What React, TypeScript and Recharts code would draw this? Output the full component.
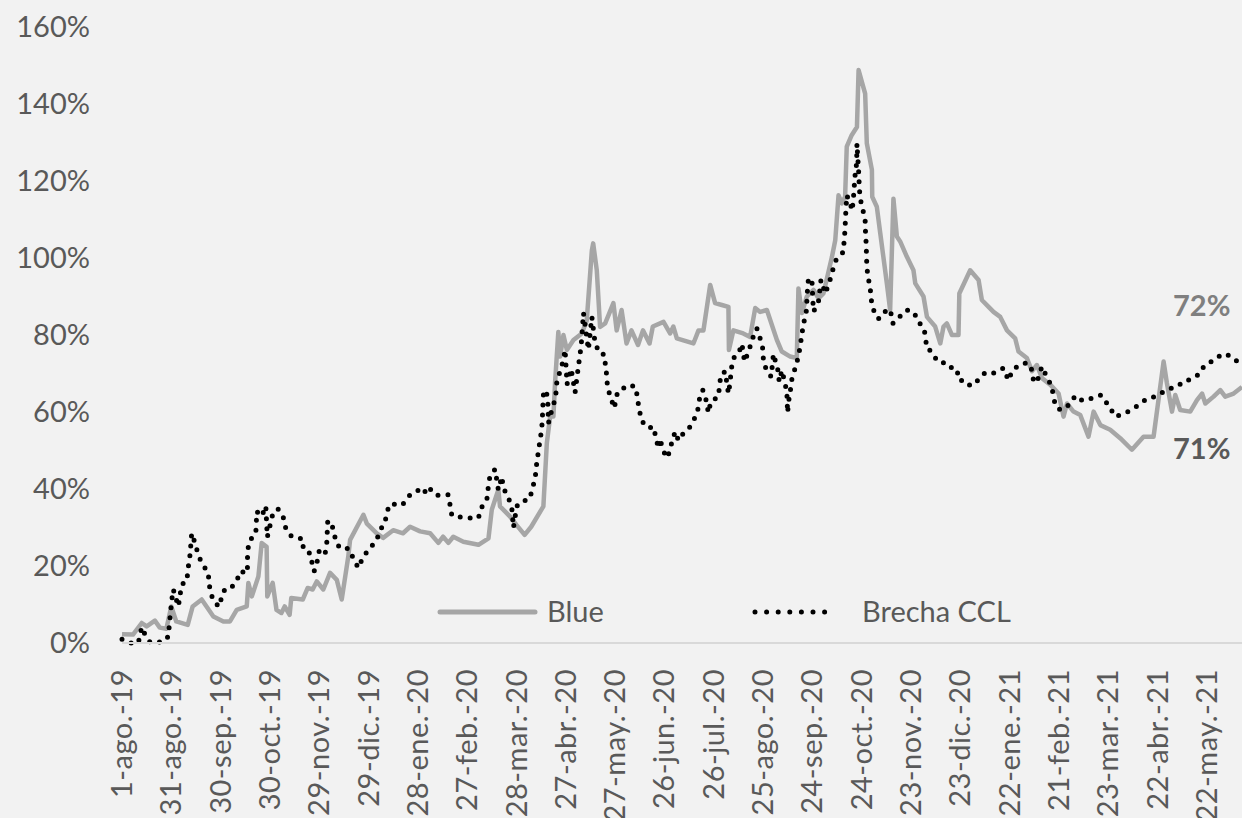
import { LineChart, Line, XAxis, YAxis, ReferenceDot } from 'recharts';

// days counted from 1-ago-2019
const tickDays = [0, 30, 60, 90, 120, 150, 180, 210, 240, 270, 300, 330, 360, 390, 420, 450, 480, 510, 540, 570, 600, 630, 660];
const tickLabels = [
  '1-ago.-19', '31-ago.-19', '30-sep.-19', '30-oct.-19', '29-nov.-19', '29-dic.-19',
  '28-ene.-20', '27-feb.-20', '28-mar.-20', '27-abr.-20', '27-may.-20', '26-jun.-20',
  '26-jul.-20', '25-ago.-20', '24-sep.-20', '24-oct.-20', '23-nov.-20', '23-dic.-20',
  '22-ene.-21', '21-feb.-21', '23-mar.-21', '22-abr.-21', '22-may.-21',
];
const yTicks = [0, 20, 40, 60, 80, 100, 120, 140, 160];

const blueDays = [
  0, 6.7, 12, 15, 20, 23, 27, 30, 33, 40, 43, 48.5, 55.6, 61.7, 65.7, 69.8, 75.9, 76.9, 79, 83,
  85, 88, 88.4, 91.7, 94, 97, 99, 102, 103, 110, 113, 116, 118.5, 122.5, 126.6, 130.7, 133.7, 137.7, 138.8, 146.9,
  149, 155, 158.9, 165, 171, 175.3, 181.4, 187.5, 192.5, 195.4, 198.6, 201.6, 207.7, 216.9, 223, 225, 229, 230, 236, 240,
  245, 249, 256.4, 258.5, 260.5, 262.5, 263.5, 265.5, 266.6, 268.6, 270.7, 274.7, 279.8, 282.8, 285.9, 286.7, 288.9, 290.9, 294, 299,
  301, 304, 307, 310, 314, 317, 321, 323, 329.5, 333.5, 335.5, 337.6, 347.7, 350.8, 353.8, 357.9, 360.9, 365, 369, 369.3,
  372, 378, 382.2, 385.3, 388.3, 392.4, 398.5, 401.5, 406.6, 410.6, 411.6, 413.7, 416.7, 420.8, 423.8, 426.8, 432, 434, 436, 438,
  440, 441, 444, 447.2, 448.2, 452.2, 453.2, 456.3, 456.5, 459.3, 461.4, 465.4, 467.4, 469.4, 471.5, 473.5, 477.6, 481.6, 482.7, 487.7,
  489.8, 494.8, 497.9, 499.9, 501.9, 505, 509, 509.5, 516.1, 521.2, 523.2, 527.3, 530.3, 534.4, 538.5, 543.5, 545.5, 550.6, 553.7, 556.7,
  559.8, 564.8, 569.9, 572.9, 575, 579, 583.1, 588.1, 591.2, 595.3, 601.3, 607.4, 614.5, 621.6, 627.7, 633.8, 635.8, 638.9, 640.9, 643.9,
  650, 654.1, 657.2, 659.2, 664.2, 668.3, 671.3, 676.4, 681.5,
];
const blueValues = [
  2.3, 2.2, 5.2, 4.3, 5.8, 4.0, 3.7, 9.5, 5.6, 4.7, 9.5, 11.3, 6.9, 5.6, 5.6, 8.6, 9.5, 15.6, 12.1, 17.3,
  26, 25, 12.1, 15.6, 8.6, 7.8, 9.5, 7.3, 11.7, 11.3, 14.3, 13.9, 16, 13.9, 18.2, 16.4, 11.3, 22.5, 26.8, 33.3,
  31, 28.5, 27.3, 29.3, 28.5, 30.2, 29, 28.5, 26, 27.6, 26, 27.6, 26.3, 25.5, 27.2, 34.6, 39.8, 35.5, 32.9, 30.7,
  28.1, 30.2, 35.5, 51.9, 58.8, 58.8, 67.5, 80.8, 74.4, 80, 76.1, 78.7, 80.4, 83.8, 102, 103.8, 96.8, 82.1, 83, 88.3,
  81.2, 86.5, 77.8, 81.2, 77.4, 81.2, 77.8, 82.2, 83.4, 80.4, 82.2, 79.1, 77.8, 81.2, 81.2, 93, 88.3, 87.8, 87.3, 76.1,
  81.2, 80.4, 79.5, 87, 86, 86.5, 78.7, 75.7, 74.4, 74, 92.1, 85.7, 90, 91.7, 89.5, 90.8, 100.3, 104.6, 116.3, 114.2,
  115.9, 128.9, 131.9, 134, 148.8, 142.7, 129.8, 122.9, 115.9, 113.3, 106.4, 93.4, 86.5, 115.4, 105.6, 104.3, 100.3, 96.8, 93.4, 90,
  84.7, 82.2, 77.8, 82.2, 83, 80, 80, 90.8, 96.8, 94.3, 89.1, 87.3, 86, 84.7, 81.2, 79.1, 75.7, 74, 70.6, 72.2,
  68.8, 67.1, 64.8, 58.8, 62.2, 60.1, 59.2, 53.6, 60.1, 56.6, 55.4, 53.2, 50.2, 53.6, 53.6, 73.1, 67.5, 60.1, 64.4, 60.5,
  60.1, 63.1, 64.8, 62.2, 64, 65.7, 64, 64.8, 66.5,
];

const cclDays = [
  0, 4.9, 9.9, 12, 14, 17, 25.1, 28.2, 28.8, 30.2, 31.2, 34.3, 36.3, 39.4, 40.4, 41.4, 42.4, 44.4, 46.4, 48.5,
  52.5, 53, 54.2, 56.6, 59.6, 60.7, 62.7, 65.7, 69.8, 71.8, 76.3, 76.4, 77.9, 81.4, 82, 85, 87.5, 88.4, 91.5, 94.8,
  98.2, 99.8, 103.3, 110, 110.3, 114.4, 115.8, 116.9, 118.9, 120.1, 123.6, 124.6, 125.2, 128, 129.6, 130.7, 133.7, 137.7, 140.8, 143.8,
  146.9, 150.9, 155, 157, 160.1, 161.1, 164.1, 168.2, 171.2, 175.3, 179.4, 181.8, 185.5, 187, 191.1, 195.6, 198.6, 199.6, 200.7, 208.8,
  216.9, 218.5, 222, 222.9, 223.9, 227, 229, 231.1, 232.1, 235.1, 237.2, 238.2, 240.2, 243.9, 246.9, 249.4, 250.3, 251.8, 252.4, 253.4,
  254.4, 255.4, 255.8, 256.1, 256.4, 258.1, 259.1, 259.5, 260.5, 262.5, 264, 264.6, 266.6, 268.6, 269.6, 270.8, 273.3, 275.7, 277.5, 279.4,
  280.8, 283.8, 285.9, 287.9, 290.9, 293.4, 295, 295.4, 297.4, 299.5, 301.5, 306.1, 308.8, 312.8, 313.6, 314.9, 315.9, 320.3, 323.4, 324.8,
  326.4, 327.5, 328.7, 331.5, 333.1, 334.6, 336.6, 338.6, 341.3, 344.7, 348.1, 350.2, 351.2, 353.4, 355.4, 356.8, 358.3, 362.9, 363.5, 364.4,
  367, 369, 370.1, 370.7, 372.1, 375.1, 377.2, 378.8, 381.2, 383.3, 385.3, 386.3, 388.3, 390, 390.3, 392.4, 395, 396.4, 397.4, 399.1,
  399.9, 401.5, 403.5, 404.6, 404.8, 405, 405.6, 406.6, 407.6, 409.6, 411.6, 412.7, 413.7, 414.7, 416.3, 416.7, 417.1, 417.7, 419.8, 420.4,
  420.8, 423.8, 425.3, 427.9, 430.5, 432.3, 434.6, 439, 439.4, 440, 440.2, 440.7, 440.9, 442.7, 444.3, 444.9, 445.5, 445.8, 446.8, 447.1,
  447.2, 448.4, 448.6, 449.2, 450.8, 452.2, 452.4, 452.8, 453, 453.2, 453.9, 455.3, 455.7, 457.3, 460.3, 462.4, 467.4, 469.1, 473.1, 477.6,
  482, 484.3, 487.3, 489.2, 489.3, 492.8, 496.2, 500.9, 504, 506, 510, 511.1, 517.2, 522.2, 525.3, 530.3, 536.4, 539.4, 541.5, 545.5,
  551, 553.7, 554.7, 556.7, 558.7, 559.8, 562.8, 565.9, 566.8, 568.9, 571.9, 577, 580, 584.5, 589.8, 595.7, 598.3, 601.3, 604.4, 610.5,
  615.5, 618.6, 623.7, 628.7, 630.7, 635.8, 641.9, 646.6, 650, 655.7, 658.7, 664.8, 669.3, 673, 677.9, 681.1,
];
const cclValues = [
  1, 0, 0, 4.1, 2.2, 0.2, 0.3, 1.7, 4.7, 10.9, 13.9, 9.5, 15.2, 16, 19.9, 22.9, 28.5, 26, 22.9, 20.8,
  18.2, 15.3, 12.6, 10.3, 9.5, 12.6, 13.9, 14, 16, 18.6, 18.2, 24, 26.8, 28.3, 34.2, 32.9, 35.6, 27.5, 33.1, 34.9,
  32.5, 29.5, 27.6, 27, 24.2, 23.3, 20.5, 18.6, 21.4, 24.2, 23.2, 26, 31.8, 30.3, 27.5, 25.7, 24.4, 24.6, 22, 19.5,
  22.5, 24.6, 26.8, 29.3, 31.3, 34.2, 36.3, 35.6, 36.2, 38.5, 39.3, 40.4, 38.9, 40.2, 38.3, 38.5, 38.5, 35.9, 33.1, 32.5,
  32.5, 35, 37.2, 40.6, 43.4, 45.1, 39.8, 43.2, 40.2, 37.8, 35, 30, 35.5, 37, 37, 39.2, 41, 44.1, 47, 49.8,
  52.8, 55.6, 58.6, 61.6, 64.4, 65.7, 62.8, 57.1, 59.1, 61.6, 64.6, 67.8, 70.7, 73.5, 76.2, 67.2, 71.2, 65.1, 71.2, 77.2,
  85.7, 76.2, 84.7, 77.8, 75.1, 75, 69.2, 66.4, 63.7, 61, 65.1, 66.5, 67.1, 66.4, 63.4, 60.5, 57.8, 55.8, 56.2, 53.5,
  50.6, 53.1, 50.6, 48.1, 49.6, 52.2, 54.9, 52.6, 54.3, 55.5, 58.1, 60.1, 63.1, 65.7, 63.1, 59.8, 62.7, 64, 66.5, 69.7,
  70.5, 64.8, 67.9, 71.1, 74, 75.1, 77.7, 73.1, 75.7, 78.5, 81.2, 81.7, 79.1, 76.3, 73.3, 70.5, 69.2, 75.1, 73.5, 70.9,
  67.9, 70.8, 67.5, 64.6, 62.1, 59.8, 62.7, 65.3, 68.5, 71.4, 74.4, 77.2, 80.2, 83, 85.7, 88.7, 91.7, 94.7, 94.3, 88.7,
  86.1, 88.7, 94.3, 90.8, 93.8, 96.6, 99.6, 101.6, 104.6, 107.5, 110.5, 113.5, 116.3, 114.9, 112.3, 114.9, 117.8, 120.6, 123.7, 126.7,
  129.7, 121.2, 118.4, 115.4, 112.6, 109.7, 106.8, 103.8, 101, 97.9, 95.1, 92.3, 89.5, 86.5, 84.2, 85.7, 86.7, 83, 84.7, 86.5,
  85.9, 83.5, 82.2, 79.6, 76.7, 75.7, 73.1, 72.7, 72.2, 70.1, 70.1, 67.7, 66.8, 68.8, 70.3, 70.1, 71.4, 68.2, 70.5, 72.2,
  72.8, 70.9, 67.9, 67.7, 70.5, 71.8, 69, 66.5, 63.5, 61, 60.5, 62.1, 64.2, 62.9, 63.5, 64.4, 62.9, 61, 58.8, 59.7,
  61, 61.8, 63.5, 64, 64.4, 65.9, 66.5, 68.2, 68.4, 69.9, 72.2, 73.5, 75.1, 74.8, 73.3, 73,
];

const endLabels = [
  { text: '72%', day: 657, value: 87.5, color: '#7f7f7f' },
  { text: '71%', day: 657, value: 50.4, color: '#595959' },
];

const blueData = blueDays.map((d, i) => ({ d, v: blueValues[i] }));
const cclData = cclDays.map((d, i) => ({ d, v: cclValues[i] }));

const FONT = 'Lato, "Open Sans", sans-serif';
const TEXT = '#595959';
const GREY = '#a6a6a6';

const DateTick = (props: any) => {
  const { x, y, payload } = props;
  const label = tickLabels[tickDays.indexOf(payload.value)] ?? '';
  const ty = y + 26;
  return (
    <text
      x={x}
      y={ty}
      dy="0.35em"
      transform={`rotate(-90 ${x} ${ty})`}
      textAnchor="end"
      fill={TEXT}
      fontSize={29}
      letterSpacing={0.5}
      fontFamily={FONT}
    >
      {label}
    </text>
  );
};

// legend drawn as a plain overlay so it does not eat plot space
const LegendOverlay = () => (
  <svg
    width={1242}
    height={818}
    style={{ position: 'absolute', left: 0, top: 0, pointerEvents: 'none' }}
  >
    <line x1={440} y1={612} x2={535} y2={612} stroke={GREY} strokeWidth={5} strokeLinecap="round" />
    <text x={547} y={622} fill={TEXT} fontSize={29} fontFamily={FONT}>Blue</text>
    <line
      x1={755}
      y1={612}
      x2={836}
      y2={612}
      stroke="#000"
      strokeWidth={5}
      strokeLinecap="round"
      strokeDasharray="0 11.6"
    />
    <text x={862} y={622} fill={TEXT} fontSize={29} fontFamily={FONT}>Brecha CCL</text>
  </svg>
);

export default function App() {
  return (
    <div
      style={{
        position: 'absolute',
        left: 0,
        top: 0,
        width: 1242,
        height: 818,
        background: '#f2f2f2',
        overflow: 'hidden',
      }}
    >
      <LineChart
        width={1242}
        height={818}
        margin={{ top: 27, right: 0, bottom: 0, left: 0 }}
        style={{ fontFamily: FONT }}
      >
        <XAxis
          dataKey="d"
          type="number"
          domain={[0, 681.5]}
          ticks={tickDays}
          interval={0}
          height={175}
          tickSize={0}
          tickMargin={0}
          tickLine={false}
          axisLine={{ stroke: '#d9d9d9', strokeWidth: 2 }}
          tick={<DateTick />}
        />
        <YAxis
          type="number"
          domain={[0, 160]}
          ticks={yTicks}
          interval={0}
          width={122}
          tickSize={0}
          tickMargin={32}
          axisLine={false}
          tickLine={false}
          tickFormatter={(v: number) => `${v}%`}
          tick={{ fill: TEXT, fontSize: 29, fontFamily: FONT }}
        />
        <Line
          data={blueData}
          dataKey="v"
          type="linear"
          stroke={GREY}
          strokeWidth={4.5}
          strokeLinejoin="round"
          dot={false}
          activeDot={false}
          isAnimationActive={false}
        />
        <Line
          data={cclData}
          dataKey="v"
          type="linear"
          stroke="#000"
          strokeWidth={5}
          strokeLinecap="round"
          strokeDasharray="0 10"
          dot={false}
          activeDot={false}
          isAnimationActive={false}
        />
        {endLabels.map((l) => (
          <ReferenceDot
            key={l.text}
            x={l.day}
            y={l.value}
            r={0}
            ifOverflow="visible"
            shape={(p: any) => (
              <text
                x={p.cx}
                y={p.cy}
                dy="0.35em"
                textAnchor="middle"
                fill={l.color}
                fontSize={29}
                fontWeight={700}
                fontFamily={FONT}
              >
                {l.text}
              </text>
            )}
          />
        ))}
      </LineChart>
      <LegendOverlay />
    </div>
  );
}
